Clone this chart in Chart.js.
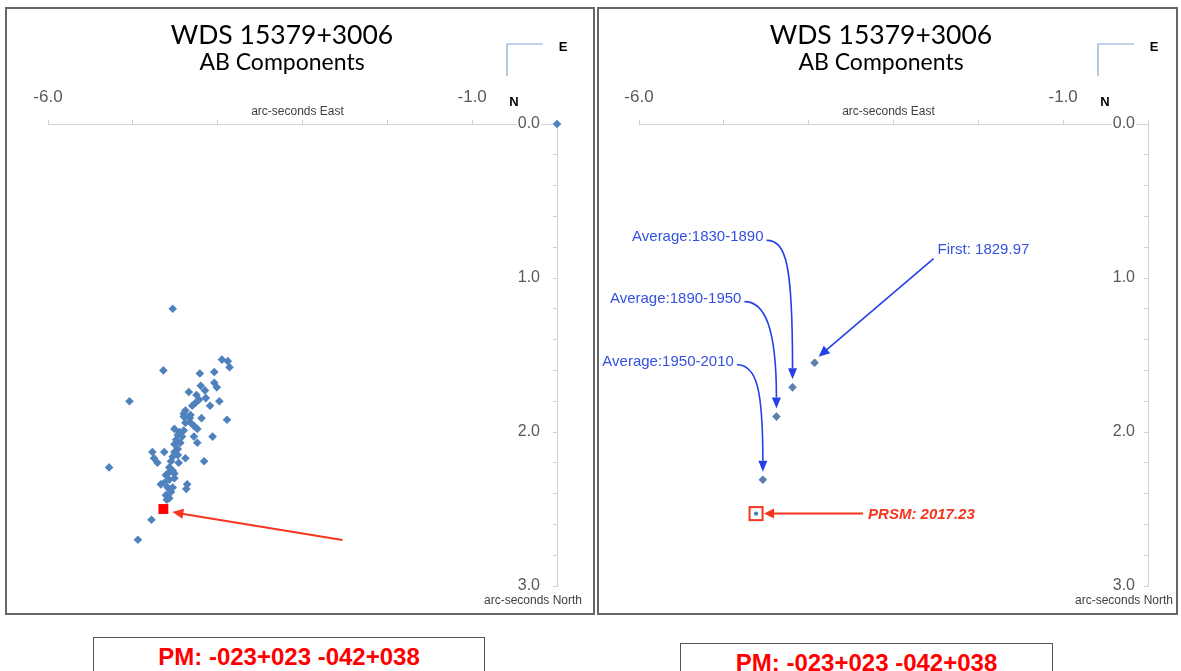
<!DOCTYPE html>
<html>
<head>
<meta charset="utf-8">
<script src="https://cdn.jsdelivr.net/npm/chart.js@4.4.1/dist/chart.umd.min.js"></script>
<style>
  body { margin: 0; width: 1181px; height: 671px; background: #fff; position: relative; overflow: hidden; }
  .panel { position: absolute; border: 2px solid #666; box-sizing: border-box; }
  .wrap { position: absolute; }
  .pm { position: absolute; border: 1.5px solid #555; box-sizing: border-box; height: 44px;
        color: #f00; font: bold 24px "Liberation Sans Narrow", Arial, "Liberation Sans", sans-serif;
        text-align: center; line-height: 38px; }
</style>
</head>
<body>
<div class="panel" style="left:5px;top:7px;width:590px;height:608px"></div>
<div class="panel" style="left:597px;top:7px;width:581px;height:608px"></div>
<div class="wrap" style="left:7px;top:9px;width:585px;height:604px"><canvas id="left"></canvas></div>
<div class="wrap" style="left:600px;top:9px;width:576px;height:604px"><canvas id="right"></canvas></div>
<div class="pm" style="left:93px;top:637px;width:392px">PM: -023+023 -042+038</div>
<div class="pm" style="left:680px;top:643px;width:373px">PM: -023+023 -042+038</div>
<script>
// ---- data ----
const titleText = 'WDS 15379+3006';
const subTitleText = 'AB Components';
const xTickLabels = [-6, -1];
const yTickLabels = [0, 1, 2, 3];

// all measures of the B component (left chart)
const allX = [-4.53, -3.95, -3.88, -3.86, -4.64, -4.21, -4.04, -4.04, -4.20, -4.15,
              -4.34, -4.25, -4.22, -4.26, -3.98, -4.09, -4.30, -4.38, -4.40, -4.40,
              -4.19, -3.89, -4.38, -4.32, -4.28, -4.51, -4.40, -4.24, -4.47, -4.42,
              -4.49, -4.28, -4.24, -4.06, -4.51, -4.47, -4.51, -4.53, -4.47, -4.63,
              -4.77, -4.75, -4.71, -4.38, -4.16, -4.55, -4.57, -4.53, -4.51, -4.61,
              -4.57, -4.63, -4.59, -4.53, -4.55, -4.61, -4.57, -4.67, -4.36, -4.37,
              -5.04, -5.28, -4.78, -4.94, -4.60, -4.45, -4.33, -4.46, -4.51, -4.57,
              -4.44, -4.32, -4.14, -4.01];
const allY = [1.20, 1.53, 1.54, 1.58, 1.60, 1.62, 1.61, 1.68, 1.70, 1.73,
              1.74, 1.76, 1.79, 1.81, 1.80, 1.83, 1.83, 1.86, 1.88, 1.90,
              1.91, 1.92, 1.94, 1.94, 1.96, 1.98, 1.99, 1.98, 2.02, 2.03,
              2.05, 2.03, 2.07, 2.03, 2.08, 2.11, 2.13, 2.16, 2.15, 2.13,
              2.13, 2.17, 2.20, 2.17, 2.19, 2.19, 2.23, 2.25, 2.27, 2.28,
              2.31, 2.33, 2.36, 2.36, 2.39, 2.41, 2.43, 2.34, 2.34, 2.37,
              1.80, 2.23, 2.57, 2.70, 2.44, 2.00, 1.91, 2.20, 2.30, 2.26,
              2.07, 1.89, 1.78, 1.71];
const primaryX = [0];
const primaryY = [0];
const prsmX = [-4.64];
const prsmY = [2.50];

// first measure and averages (right chart)
const markLabels = ['First: 1829.97', 'Average:1830-1890', 'Average:1890-1950', 'Average:1950-2010'];
const markX = [-3.93, -4.19, -4.38, -4.54];
const markY = [1.55, 1.71, 1.90, 2.31];
const prsm2X = [-4.62];
const prsm2Y = [2.53];
const prsmLabel = 'PRSM: 2017.23';

const pts = (xs, ys) => xs.map((x, i) => ({ x: x, y: ys[i] }));

const blue = '#4f81bd';
const axisGray = '#d0d0d0';

function scales(yPad) {
  return {
    x: {
      type: 'linear', position: 'top', min: -6, max: 0,
      afterFit: s => { s.height = 40; },
      border: { color: axisGray, width: 1 },
      grid: { drawOnChartArea: false, tickLength: 4, color: axisGray },
      ticks: {
        stepSize: 1, padding: 12, autoSkip: false, maxRotation: 0,
        color: '#595959', font: { size: 17, family: 'Arial, "Liberation Sans"' },
        callback: v => xTickLabels.includes(v) ? v.toFixed(1) : ''
      }
    },
    y: {
      type: 'linear', position: 'right', reverse: true, min: 0, max: 3,
      afterFit: s => { s.width = 10; },
      border: { color: axisGray, width: 1 },
      grid: { drawOnChartArea: false, tickLength: -4, color: axisGray },
      ticks: {
        stepSize: 0.2, mirror: true, padding: yPad, autoSkip: false,
        color: '#595959', font: { size: 16, family: 'Arial, "Liberation Sans"' },
        showLabelBackdrop: true, backdropColor: '#fff', backdropPadding: 1,
        callback: v => yTickLabels.some(t => Math.abs(t - v) < 1e-6) ? v.toFixed(1) : ''
      }
    }
  };
}

function arrowHead(ctx, tx, ty, fx, fy, len, half) {
  const a = Math.atan2(ty - fy, tx - fx);
  ctx.beginPath();
  ctx.moveTo(tx, ty);
  ctx.lineTo(tx - len * Math.cos(a) + half * Math.sin(a), ty - len * Math.sin(a) - half * Math.cos(a));
  ctx.lineTo(tx - len * Math.cos(a) - half * Math.sin(a), ty - len * Math.sin(a) + half * Math.cos(a));
  ctx.closePath();
  ctx.fill();
}

// titles, compass, axis names
const frame = {
  id: 'frame',
  afterDraw(chart, args, o) {
    const ctx = chart.ctx, ca = chart.chartArea, R = ca.right;
    ctx.save();
    ctx.fillStyle = '#000';
    ctx.textAlign = 'center';
    ctx.textBaseline = 'middle';
    ctx.font = '26.5px Lato, "Open Sans", sans-serif';
    ctx.fillText(titleText, o.titleX, 26);
    ctx.font = '23px Lato, "Open Sans", sans-serif';
    ctx.fillText(subTitleText, o.titleX, 54);

    // compass
    ctx.strokeStyle = '#7fa7d3';
    ctx.lineWidth = 1.2;
    ctx.beginPath();
    ctx.moveTo(R - 14, 35); ctx.lineTo(R - 50, 35); ctx.lineTo(R - 50, 67);
    ctx.stroke();
    ctx.font = 'bold 13px Arial, "Liberation Sans"';
    ctx.fillText('E', R + 6, 38);
    ctx.fillText('N', R - 43, 93);

    ctx.fillStyle = '#404040';
    ctx.font = '12px Arial, "Liberation Sans"';
    ctx.fillText('arc-seconds East', (ca.left + ca.right) / 2 - 5, ca.top - 12);
    ctx.fillText('arc-seconds North', R - 24, ca.bottom + 15);
    ctx.restore();
    if (o.extra) o.extra(chart);
  }
};

function leftExtra(chart) {
  const ctx = chart.ctx, sx = chart.scales.x, sy = chart.scales.y;
  const px = sx.getPixelForValue(prsmX[0]), py = sy.getPixelForValue(prsmY[0]);
  ctx.save();
  ctx.strokeStyle = '#f5351f';
  ctx.fillStyle = '#f5351f';
  ctx.lineWidth = 2;
  const fx = px + 179, fy = py + 31, tx = px + 9, ty = py + 3;
  ctx.beginPath();
  ctx.moveTo(fx, fy); ctx.lineTo(tx + 8, ty + 1.4);
  ctx.stroke();
  arrowHead(ctx, tx, ty, fx, fy, 11, 5);
  ctx.restore();
}

function rightExtra(chart) {
  const ctx = chart.ctx, sx = chart.scales.x, sy = chart.scales.y;
  const P = i => [sx.getPixelForValue(markX[i]), sy.getPixelForValue(markY[i])];
  ctx.save();
  ctx.font = '15px Arial, "Liberation Sans"';
  ctx.textBaseline = 'middle';
  ctx.strokeStyle = '#2440e8';
  ctx.fillStyle = '#2440e8';
  ctx.lineWidth = 1.6;

  // first measure
  let [px, py] = P(0);
  ctx.beginPath();
  ctx.moveTo(px + 119, py - 104); ctx.lineTo(px + 11, py - 12);
  ctx.stroke();
  arrowHead(ctx, px + 4, py - 6, px + 119, py - 104, 11, 5);
  ctx.fillStyle = '#3551e0';
  ctx.textAlign = 'left';
  ctx.fillText(markLabels[0], px + 123, py - 113);

  // averages: label height relative to point
  const offs = [null, -150, -118, -118];
  for (let i = 1; i < 4; i++) {
    [px, py] = P(i);
    const dy = offs[i];
    const sxp = px - 26 - (i === 2 ? 6 : 0), syp = py + dy + 3;
    ctx.fillStyle = '#3551e0';
    ctx.textAlign = 'right';
    ctx.fillText(markLabels[i], sxp - 3, py + dy);
    ctx.beginPath();
    ctx.moveTo(sxp, syp);
    ctx.bezierCurveTo(sxp + 20, syp, px, syp + 25, px, py - 19);
    ctx.stroke();
    ctx.fillStyle = '#2440e8';
    arrowHead(ctx, px, py - 8, px, py - 30, 11, 4.5);
  }

  // PRSM
  const qx = sx.getPixelForValue(prsm2X[0]), qy = sy.getPixelForValue(prsm2Y[0]);
  ctx.strokeStyle = '#f5351f';
  ctx.fillStyle = '#f5351f';
  ctx.lineWidth = 2;
  ctx.strokeRect(qx - 6.5, qy - 6.5, 13, 13);
  ctx.beginPath();
  ctx.moveTo(qx + 107, qy); ctx.lineTo(qx + 16, qy);
  ctx.stroke();
  arrowHead(ctx, qx + 8, qy, qx + 107, qy, 10, 5);
  ctx.font = 'italic bold 15px Arial, "Liberation Sans"';
  ctx.textAlign = 'left';
  ctx.fillText(prsmLabel, qx + 112, qy + 1);
  ctx.restore();
}

function makeChart(id, datasets, pad, titleX, yPad, extra) {
  return new Chart(document.getElementById(id), {
    type: 'scatter',
    data: { datasets: datasets },
    options: {
      responsive: true, maintainAspectRatio: false, animation: false,
      layout: { padding: pad },
      scales: scales(yPad),
      plugins: { legend: { display: false }, tooltip: { enabled: false },
                 frame: { titleX: titleX, extra: extra } }
    },
    plugins: [frame]
  });
}

makeChart('left', [
  { data: pts(primaryX, primaryY), pointStyle: 'rectRot', radius: 4.3, backgroundColor: blue, borderWidth: 0, clip: false },
  { data: pts(allX, allY), pointStyle: 'rectRot', radius: 4.3, backgroundColor: blue, borderWidth: 0, clip: false },
  { data: pts(prsmX, prsmY), pointStyle: 'rect', radius: 7, backgroundColor: '#f00', borderWidth: 0, clip: false }
], { left: 41, right: 25, top: 75, bottom: 27 }, 275, -17, leftExtra);

makeChart('right', [
  { data: pts(markX, markY), pointStyle: 'rectRot', radius: 4.3, backgroundColor: '#5a7fab', borderWidth: 0, clip: false },
  { data: pts(prsm2X, prsm2Y), pointStyle: 'circle', radius: 2.2, backgroundColor: blue, borderWidth: 0, clip: false }
], { left: 39, right: 18, top: 75, bottom: 27 }, 281, -13, rightExtra);
</script>
</body>
</html>
